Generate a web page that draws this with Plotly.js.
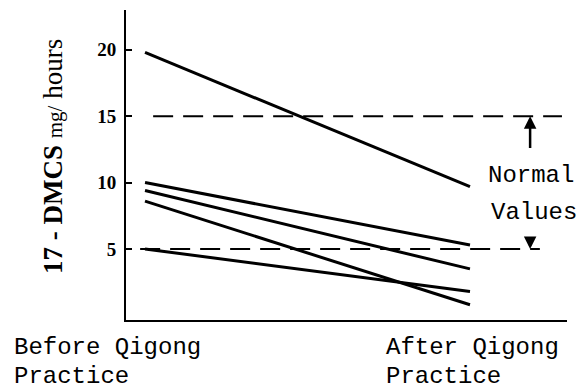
<!DOCTYPE html>
<html>
<head>
<meta charset="utf-8">
<script src="https://cdn.plot.ly/plotly-3.0.1.min.js"></script>
<style>
  html, body { margin: 0; padding: 0; background: #fff; }
  #chart { width: 585px; height: 391px; }
</style>
</head>
<body>
<div id="chart"></div>
<script>
// ---- data ----
const stageLabels = [['Before Qigong', 'Practice'], ['After Qigong', 'Practice']];
const stageX = [0, 1];
const beforeValues = [19.8, 10.0, 9.4, 8.6, 5.0];
const afterValues  = [9.7, 5.3, 3.5, 0.8, 1.8];
const normalRange = [5, 15];
const yTickValues = [5, 10, 15, 20];
const yTickText = ['5', '10', '15', '20'];
const normalLabelLines = ['Normal', 'Values'];
const yTitle = '<b>17 - DMCS</b> <span style="font-size:21px">mg/</span> hours';

// ---- traces: one line per subject ----
const traces = beforeValues.map((b, i) => ({
  type: 'scatter',
  mode: 'lines',
  x: stageX,
  y: [b, afterValues[i]],
  line: { color: '#000', width: 3 },
  hoverinfo: 'skip',
  showlegend: false
}));

// ---- normal-range dashed lines ----
const dashExtents = [[0.025, 1.283], [-0.015, 1.215]];
const shapes = [normalRange[1], normalRange[0]].map((v, i) => ({
  type: 'line', xref: 'x', yref: 'y',
  x0: dashExtents[i][0], x1: dashExtents[i][1], y0: v, y1: v,
  line: { color: '#000', width: 2, dash: '20px,10px' }
}));

const monoFont = { family: 'Liberation Mono, Courier New, monospace', size: 24, color: '#000' };
const arrowX = 1.185;
// pixel -> paper helpers for the plot area (l=126, w=441, t=10, h=310)
const px = p => (p - 126) / 441;
const py = p => (320 - p) / 310;

const stageLabelLeft = [13, 385];
const stageLineCenters = [347, 376];

const annotations = [
  // y-axis title
  { xref: 'paper', yref: 'paper', x: px(53), y: py(157), text: yTitle, showarrow: false,
    textangle: -90, xanchor: 'center', yanchor: 'middle',
    font: { family: 'Liberation Serif, Times New Roman, serif', size: 27, color: '#000' } },
  // Normal values label
  { xref: 'paper', yref: 'paper', x: px(486), y: py(175), text: normalLabelLines[0], showarrow: false,
    xanchor: 'left', yanchor: 'middle', align: 'left', font: monoFont },
  { xref: 'paper', yref: 'paper', x: px(489), y: py(213), text: normalLabelLines[1], showarrow: false,
    xanchor: 'left', yanchor: 'middle', align: 'left', font: monoFont },
  // arrows to the normal range limits
  { xref: 'x', yref: 'y', x: arrowX, y: normalRange[1], ax: arrowX, ay: 12.5, axref: 'x', ayref: 'y',
    text: '', showarrow: true, arrowhead: 2, arrowsize: 1, arrowwidth: 2.5, arrowcolor: '#000' },
  { xref: 'x', yref: 'y', x: arrowX, y: normalRange[0], ax: arrowX, ay: 6.0, axref: 'x', ayref: 'y',
    text: '', showarrow: true, arrowhead: 2, arrowsize: 1, arrowwidth: 2.5, arrowcolor: '#000' }
];

// stage labels, one annotation per line
stageLabels.forEach((lines, i) => {
  lines.forEach((line, j) => {
    annotations.push({
      xref: 'paper', yref: 'paper', x: px(stageLabelLeft[i]), y: py(stageLineCenters[j]),
      text: line, showarrow: false, xanchor: 'left', yanchor: 'middle', align: 'left',
      borderpad: 0, font: monoFont
    });
  });
});

const layout = {
  width: 585, height: 391,
  margin: { l: 126, r: 18, t: 10, b: 71 },
  paper_bgcolor: '#fff', plot_bgcolor: '#fff',
  showlegend: false,
  xaxis: {
    range: [-0.0585, 1.2985],
    showgrid: false, zeroline: false,
    showline: true, linecolor: '#000', linewidth: 2,
    showticklabels: false, ticks: '',
    fixedrange: true
  },
  yaxis: {
    range: [-0.35, 23.0],
    showgrid: false, zeroline: false,
    showline: true, linecolor: '#000', linewidth: 2,
    tickvals: yTickValues, ticktext: yTickText,
    ticks: 'inside', ticklen: 6, tickwidth: 2, tickcolor: '#000',
    ticklabelstandoff: 4,
    tickfont: { family: 'Liberation Serif, Times New Roman, serif', size: 19, color: '#000', weight: 'bold' },
    fixedrange: true
  },
  shapes: shapes,
  annotations: annotations
};

Plotly.newPlot('chart', traces, layout, { displayModeBar: false, staticPlot: true });
</script>
</body>
</html>
